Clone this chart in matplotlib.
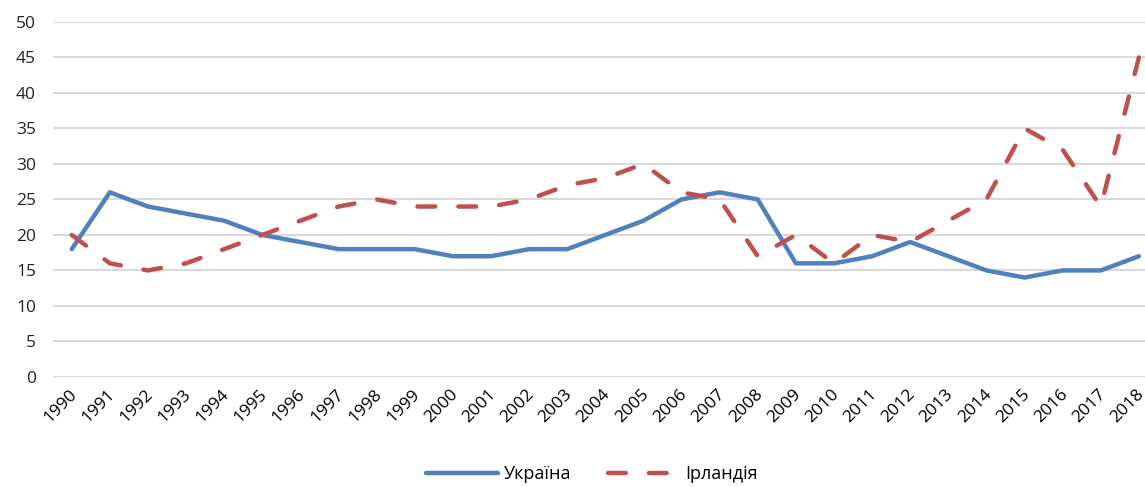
import matplotlib
matplotlib.use("Agg")
import matplotlib.pyplot as plt
import matplotlib.transforms as mtransforms

years = [str(y) for y in range(1990, 2019)]
ukraine = [18, 26, 24, 23, 22, 20, 19, 18, 18, 18, 17, 17, 18, 18, 20, 22, 25, 26, 25,
           16, 16, 17, 19, 17, 15, 14, 15, 15, 17]
ireland = [20, 16, 15, 16, 18, 20, 22, 24, 25, 24, 24, 24, 25, 27, 28, 30, 26, 25, 17,
           20, 16, 20, 19, 22, 25, 35, 32, 24, 45]
yticks = list(range(0, 55, 5))

plt.rcParams['font.family'] = ['Open Sans', 'DejaVu Sans']

fig = plt.figure(figsize=(11.45, 4.87), dpi=100)
ax = fig.add_axes([0.046, 0.226, 0.954, 0.729])

x = list(range(len(years)))
ax.plot(x, ukraine, color='#4F81BD', lw=3.2, solid_capstyle='round', solid_joinstyle='round',
        label='Україна', zorder=3)
ax.plot(x, ireland, color='#C0504D', lw=3.2, linestyle=(0, (4, 5.2)), dash_capstyle='round',
        dash_joinstyle='round', label='Ірландія', zorder=3)

ax.set_ylim(0, 50)
ax.set_xlim(-0.5, 28.16)
ax.set_yticks(yticks)
ax.set_xticks(x)
ax.set_xticklabels(years, rotation=45, ha='right', rotation_mode='anchor')
ax.tick_params(axis='both', length=0, labelsize=12.5, colors='#000000')
ax.tick_params(axis='x', pad=7)
ax.tick_params(axis='y', pad=12)
ax.grid(axis='y', color='#D9D9D9', lw=1.5)
ax.set_axisbelow(True)
for s in ax.spines.values():
    s.set_visible(False)
offset = mtransforms.ScaledTranslation(-3 / 100, 0, fig.dpi_scale_trans)
for lbl in ax.get_xticklabels():
    lbl.set_transform(lbl.get_transform() + offset)
for lbl in ax.get_yticklabels():
    lbl.set_color('#222222')

leg = fig.legend(loc='center', bbox_to_anchor=(0.517, 0.026), ncol=2, frameon=False,
                 fontsize=13, handlelength=4.0, columnspacing=2.0, handletextpad=0.3)

fig.savefig('out.png', dpi=100)
